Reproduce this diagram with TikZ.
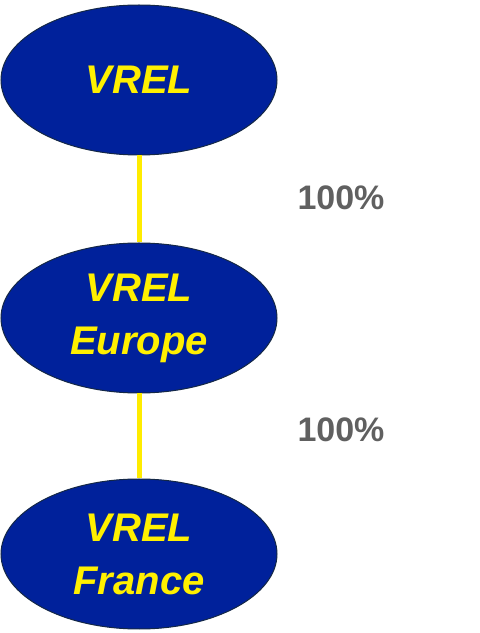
\documentclass[tikz,border=0pt]{standalone}
\usepackage{fontspec}
\setmainfont{Liberation Sans}
\usetikzlibrary{shapes.geometric}
\definecolor{ellblue}{RGB}{0,33,155}
\definecolor{ellborder}{RGB}{20,40,70}
\definecolor{txtyellow}{RGB}{255,240,0}
\definecolor{lineyellow}{RGB}{255,236,0}
\definecolor{pctgray}{RGB}{96,96,96}
\tikzset{
  entity/.style={ellipse, draw=ellborder, line width=1pt, fill=ellblue,
    minimum width=276pt, minimum height=150pt, inner sep=0pt,
    text=txtyellow, align=center,
    font=\fontsize{40}{53}\selectfont\bfseries\itshape},
  link/.style={lineyellow, line width=5pt},
  pct/.style={text=pctgray, font=\fontsize{34}{36}\selectfont\bfseries}
}
\begin{document}
\begin{tikzpicture}[x=1pt,y=1pt]
\useasboundingbox (0,0) rectangle (480,633);
\node[entity] (vrel) at (139,553) {VREL};
\node[entity] (eur) at (139,315) {VREL\\Europe};
\node[entity] (fra) at (139,79) {VREL\\France};
\draw[link] (vrel.south) -- (eur.north);
\draw[link] (eur.south) -- (fra.north);
\node[pct] (p1) at (341,435) {100\%};
\node[pct] (p2) at (341,203) {100\%};
\end{tikzpicture}
\end{document}
